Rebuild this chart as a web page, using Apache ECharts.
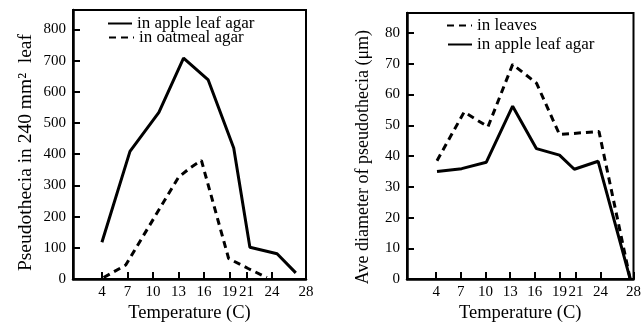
<!DOCTYPE html>
<html>
<head>
<meta charset="utf-8">
<script src="https://cdn.jsdelivr.net/npm/echarts@6/dist/echarts.min.js"></script>
<style>
html,body{margin:0;padding:0;background:#fff;}
#c{width:644px;height:328px;}
</style>
</head>
<body>
<div id="c"></div>
<script>
// ---- data ----
const xTicks = [4, 7, 10, 13, 16, 19, 21, 24, 28];
const leftYTicks = [0, 100, 200, 300, 400, 500, 600, 700, 800];
const rightYTicks = [0, 10, 20, 30, 40, 50, 60, 70, 80];

// Left panel: pseudothecia count [temperature, count]
const appleLeafCount = [[4,118],[7.3,409],[10.7,534],[13.6,708],[16.5,638],[19.5,420],[21.4,102],[24.6,81],[26.8,20]];
const oatmealCount = [[4.2,5],[6.8,45],[13,326],[14.4,357],[15.7,380],[18.9,66],[21.2,34],[23.4,5]];

// Right panel: average diameter [temperature, µm]
const leavesDiam = [[4.1,38.5],[7.4,54.3],[10.3,49.5],[13.3,69.8],[16.2,63.7],[19.0,47],[23.8,48],[27.6,0]];
const appleLeafDiam = [[4.1,35.0],[7.1,35.9],[10.1,38.0],[13.3,56.2],[16.2,42.4],[19.0,40.3],[20.8,35.7],[23.7,38.3],[27.6,0]];

const leftYTitle = 'Pseudothecia in 240 mm\u00B2  leaf';
const rightYTitle = 'Ave diameter of pseudothecia (\u03BCm)';
const xTitle = 'Temperature (C)';
const nameApple = 'in apple leaf agar';
const nameOat = 'in oatmeal agar';
const nameLeaves = 'in leaves';

const FONT = '"Liberation Serif", "Times New Roman", serif';
const black = '#000';

function xAxis(gi, min) {
  return {
    type: 'value', gridIndex: gi, min: min, max: 28,
    name: xTitle, nameLocation: 'middle', nameGap: 23,
    nameTextStyle: {fontFamily: FONT, fontSize: 18.5, color: black},
    splitLine: {show: false},
    axisLine: {show: true, lineStyle: {color: black, width: 2.5}},
    axisTick: {show: true, inside: true, length: 7, customValues: xTicks, lineStyle: {color: black, width: 2}},
    axisLabel: {customValues: xTicks, fontFamily: FONT, fontSize: 15, color: black, margin: 5}
  };
}
function yAxis(gi, max, ticks, title, gap, size, pad) {
  return {
    type: 'value', gridIndex: gi, min: 0, max: max,
    name: title, nameLocation: 'middle', nameGap: gap, nameRotate: 90,
    nameTextStyle: {fontFamily: FONT, fontSize: size, color: black, padding: [0, pad, 0, 0]},
    splitLine: {show: false},
    axisLine: {show: true, lineStyle: {color: black, width: 2.5}},
    axisTick: {show: true, inside: true, length: 7, customValues: ticks, lineStyle: {color: black, width: 2}},
    axisLabel: {customValues: ticks, fontFamily: FONT, fontSize: 15, color: black, margin: 7}
  };
}
function line(name, data, gi, dashed) {
  return {
    type: 'line', name: name, data: data, xAxisIndex: gi, yAxisIndex: gi,
    symbol: 'none', silent: true, animation: false,
    lineStyle: {color: black, width: 3, type: dashed ? [7, 5] : 'solid'},
    itemStyle: {color: black}
  };
}
function legend(name, left, top, w) {
  return {
    data: [name], left: left, top: top, padding: 0, selectedMode: false,
    itemWidth: w, itemHeight: 10, itemGap: 5,
    textStyle: {fontFamily: FONT, fontSize: 17, color: black},
    lineStyle: {width: 2},
    itemStyle: {opacity: 0, borderWidth: 0}
  };
}

const chart = echarts.init(document.getElementById('c'), null, {renderer: 'canvas'});
chart.setOption({
  animation: false,
  backgroundColor: '#fff',
  grid: [
    {left: 73, top: 10, width: 233, height: 276, show: true, borderColor: black, borderWidth: 2, backgroundColor: 'transparent'},
    {left: 407, top: 13, width: 233, height: 274, show: true, borderColor: black, borderWidth: 2, backgroundColor: 'transparent'}
  ],
  xAxis: [xAxis(0, 0.6), xAxis(1, 0.45)],
  yAxis: [yAxis(0, 862, leftYTicks, leftYTitle, 37, 19.5, 16), yAxis(1, 86.5, rightYTicks, rightYTitle, 35, 18, 22)],
  legend: [
    legend(nameApple, 107, 15, 24),
    legend(nameOat, 108, 29, 25),
    legend(nameLeaves, 446, 17, 25),
    legend(nameApple, 447, 36, 24)
  ],
  series: [
    line(nameApple, appleLeafCount, 0, false),
    line(nameOat, oatmealCount, 0, true),
    line(nameLeaves, leavesDiam, 1, true),
    line(nameApple, appleLeafDiam, 1, false)
  ]
});
</script>
</body>
</html>
